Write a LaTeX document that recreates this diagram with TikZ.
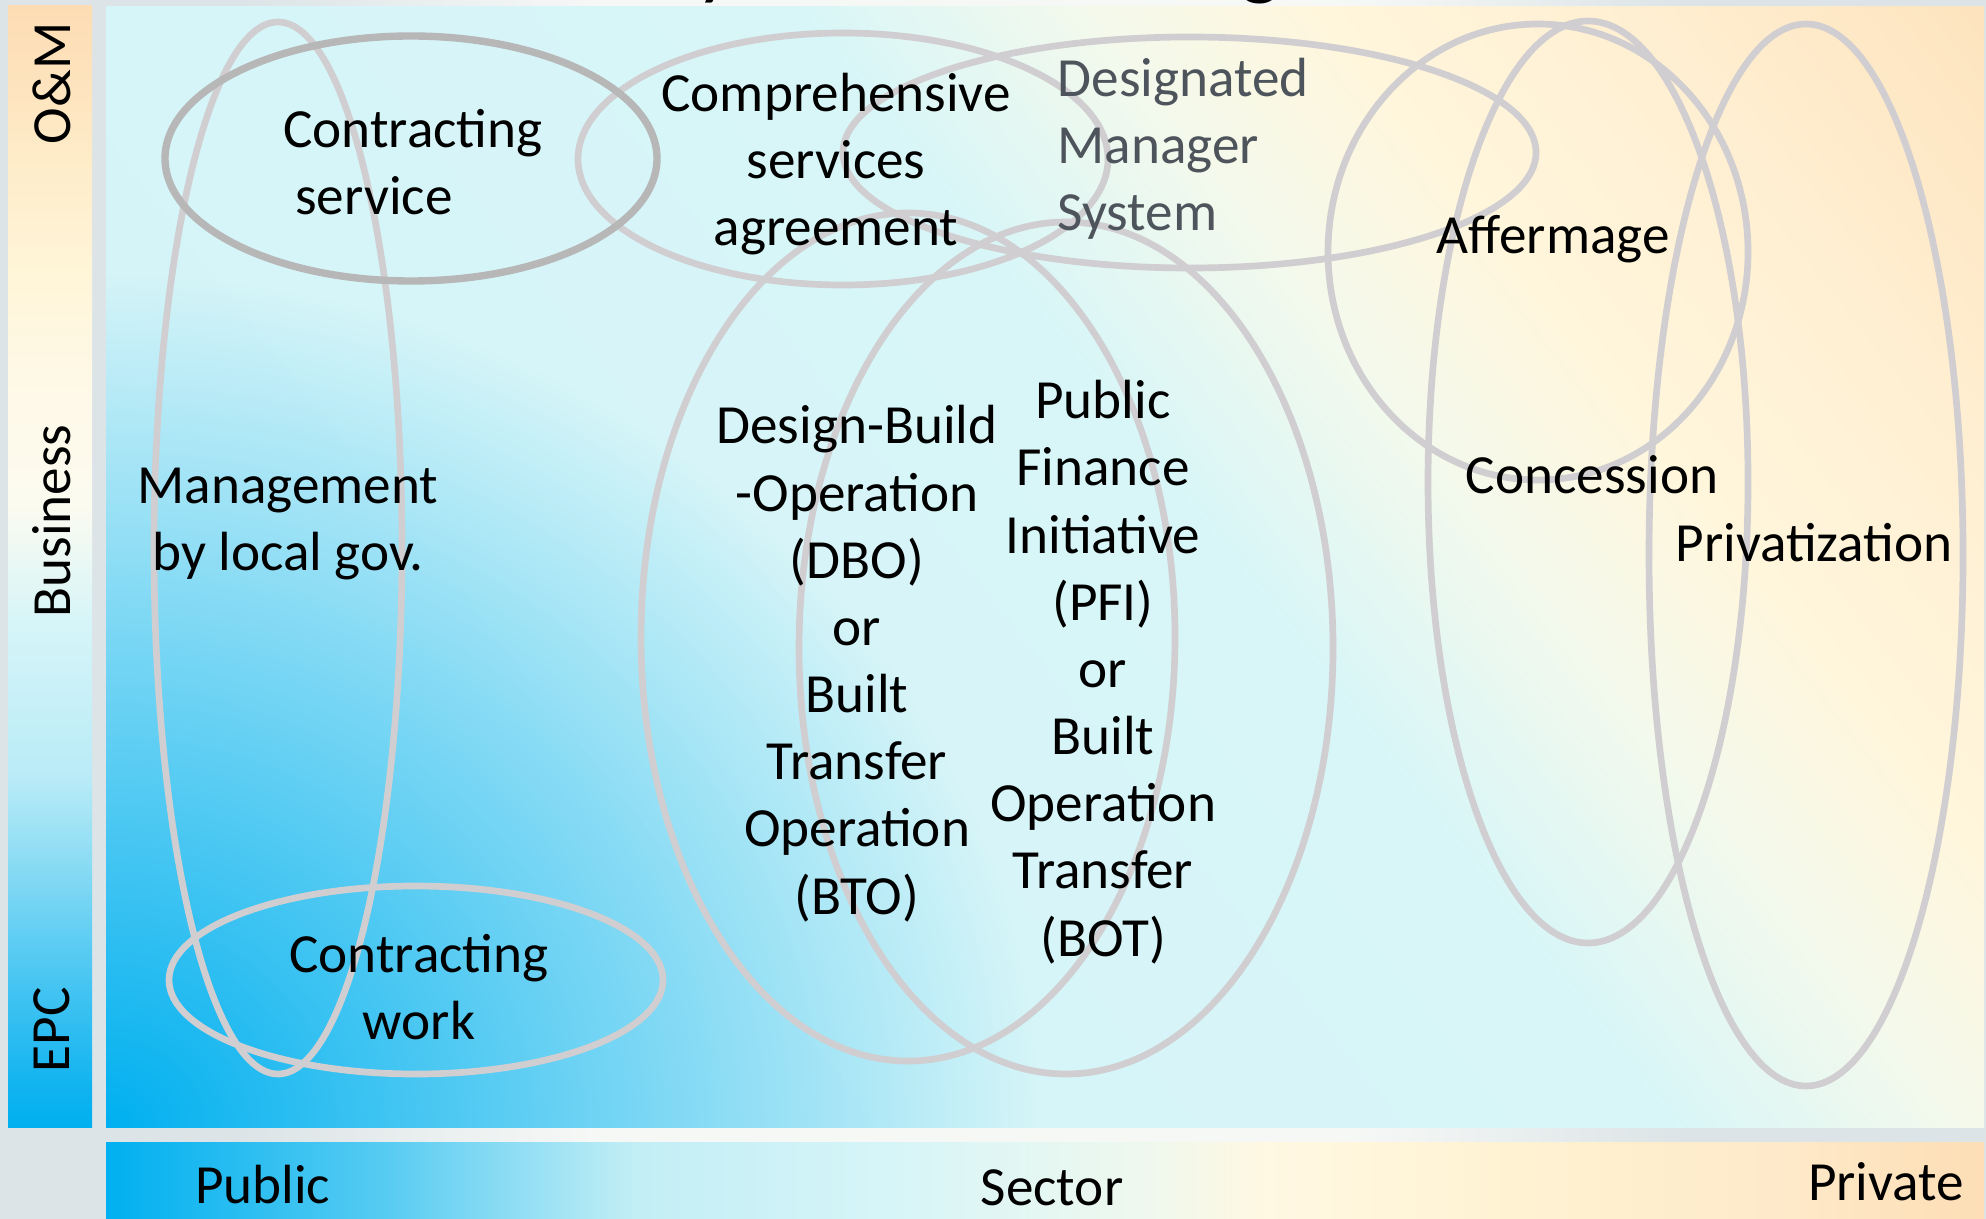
\documentclass[tikz,border=0pt]{standalone}
\usepackage{fontspec}
\setmainfont{Carlito}
\usetikzlibrary{fadings}

\definecolor{bggray}{HTML}{DCE4E7}
\definecolor{bgwhite}{HTML}{F6F8F6}
\definecolor{cblue}{HTML}{00B0F0}
\definecolor{ringgray}{HTML}{D0CED0}
\definecolor{ringdark}{HTML}{B7B7B8}
\definecolor{txtgray}{HTML}{4E545B}
\definecolor{lb0}{HTML}{00B0F0}
\definecolor{lb1}{HTML}{10B3F0}
\definecolor{lb2}{HTML}{4CC7F2}
\definecolor{lb3}{HTML}{8FDDF4}
\definecolor{lb4}{HTML}{B9EBF7}
\definecolor{lb5}{HTML}{D6F5F8}
\definecolor{lb6}{HTML}{FCFBF0}
\definecolor{lb7}{HTML}{FEF9E8}
\definecolor{lb8}{HTML}{FFF5D8}
\definecolor{lb9}{HTML}{FEEBC8}
\definecolor{lb10}{HTML}{FDDCB3}
\definecolor{bb0}{HTML}{00B0F0}
\definecolor{bb1}{HTML}{55CBF2}
\definecolor{bb2}{HTML}{C2EEF5}
\definecolor{bb3}{HTML}{D6F5F8}
\definecolor{bb4}{HTML}{EEF8EE}
\definecolor{bb5}{HTML}{FFF8E2}
\definecolor{bb6}{HTML}{FFF2D2}
\definecolor{bb7}{HTML}{FEEACA}
\definecolor{bb8}{HTML}{FDDEB5}
\definecolor{pn0}{HTML}{D3F3F8}
\definecolor{pn1}{HTML}{D8F6F8}
\definecolor{pn2}{HTML}{F4F9EC}
\definecolor{pn3}{HTML}{FFF6DC}
\definecolor{pn4}{HTML}{FFEFD2}
\definecolor{pn5}{HTML}{FDE3BD}

% PGF fits the middle part (25bp..75bp) of a shading to the path
\pgfdeclarehorizontalshading{bgstripsh}{100bp}{color(0bp)=(bggray); color(31bp)=(bggray); color(40bp)=(bgwhite); color(59bp)=(bgwhite); color(67.5bp)=(bggray); color(100bp)=(bggray)}
\pgfdeclareverticalshading{leftbarsh}{100bp}{color(0bp)=(lb0); color(25bp)=(lb0); color(26.7bp)=(lb1); color(31.9bp)=(lb2); color(37.15bp)=(lb3); color(40.6bp)=(lb4); color(47.5bp)=(lb5); color(52.75bp)=(lb6); color(57.9bp)=(lb7); color(63.15bp)=(lb8); color(68.35bp)=(lb9); color(75bp)=(lb10); color(100bp)=(lb10)}
\pgfdeclarehorizontalshading{bottombarsh}{100bp}{color(0bp)=(bb0); color(25bp)=(bb0); color(32.3bp)=(bb1); color(39.05bp)=(bb2); color(45.8bp)=(bb3); color(52.5bp)=(bb4); color(55.9bp)=(bb5); color(62.65bp)=(bb6); color(69.4bp)=(bb7); color(75bp)=(bb8); color(100bp)=(bb8)}
\pgfdeclarehorizontalshading{panelsh}{100bp}{color(0bp)=(pn0); color(25bp)=(pn0); color(53.4bp)=(pn1); color(58.6bp)=(pn2); color(62.7bp)=(pn3); color(68.2bp)=(pn4); color(75bp)=(pn5); color(100bp)=(pn5)}

\tikzfading[name=blobfade, inner color=transparent!0, outer color=transparent!100]

\begin{document}
\begin{tikzpicture}[x=0.01cm, y=-0.01cm,
  ring/.style={draw=ringgray, line width=1.9pt},
  ringd/.style={draw=ringdark, line width=2.1pt},
  lbl/.style={font=\fontsize{15.7}{19.1}\selectfont, align=center, inner sep=0pt, text=black},
  sidelbl/.style={font=\fontsize{15.7}{19.1}\selectfont, inner sep=0pt, rotate=90, text=black},
  titlefrag/.style={font=\fontsize{24}{28}\selectfont, inner sep=0pt, anchor=base, text=black}]
\useasboundingbox (0,0) rectangle (1986,1219);
\begin{scope}
\clip (0,0) rectangle (1986,1219);
% background
\shade[shading=bgstripsh] (0,0) rectangle (1986,1219);
% left bar
\shade[shading=leftbarsh] (8,6) rectangle (92,1127);
% bottom bar
\shade[shading=bottombarsh] (106,1142) rectangle (1984,1219);
% main panel
\begin{scope}
\clip (106,7) rectangle (1984,1127);
\shade[shading=panelsh, transform canvas={rotate around={38:(1045,567)}}] (-55,-533) rectangle (2145,1667);
\fill[cblue, path fading=blobfade] (-824,277) rectangle (1036,1977);
\end{scope}
% title fragments (cut off at the top edge)
\node[titlefrag] (ty) at (716,-10) {y};
\node[titlefrag] (tg) at (1260,-10) {g};
% ellipses
\draw[ring] (278,548) ellipse [x radius=124, y radius=526];
\draw[ring] (416,980) ellipse [x radius=247, y radius=94];
\draw[ring] (843,159) ellipse [x radius=265, y radius=126];
\draw[ring] (1189.5,152.5) ellipse [x radius=346.5, y radius=115.5];
\draw[ring] (908,637) ellipse [x radius=267, y radius=424];
\draw[ring] (1066,648) ellipse [x radius=267, y radius=426];
\draw[ring] (1538,252) ellipse [x radius=210, y radius=228];
\draw[ring] (1588,482) ellipse [x radius=160, y radius=461];
\draw[ring] (1806,555) ellipse [x radius=157, y radius=531];
\draw[ringd] (411,158.5) ellipse [x radius=246, y radius=122.5];
% labels
\node[lbl] (csvc) at (413,162) {Contracting\\service\rule{0.78cm}{0pt}};
\node[lbl] (cwork) at (419,987) {Contracting\\work};
\node[lbl] (mgmt) at (288,524) {Management\\by local gov.};
\node[lbl] (comp) at (836,164) {Comprehensive\\services\\agreement};
\node[lbl, align=left, anchor=west, text=txtgray] (desig) at (1057,148.5) {Designated\\Manager\\System};
\node[lbl] (aff) at (1553,239) {Affermage};
\node[lbl] (conc) at (1592,475) {Concession};
\node[lbl] (priv) at (1814,543) {Privatization};
\node[lbl] (dbo) at (857,663.6) {Design-Build\\-Operation\\(DBO)\\or\\Built\\Transfer\\Operation\\(BTO)};
\node[lbl] (pfi) at (1103,672) {Public\\Finance\\Initiative\\(PFI)\\or\\Built\\Operation\\Transfer\\(BOT)};
% side labels
\node[sidelbl] (om) at (51.5,83.5) {O\&M};
\node[sidelbl] (bus) at (51.5,521) {Business};
\node[sidelbl] (epc) at (51.5,1030) {EPC};
% bottom labels
\node[lbl] (pub) at (262.7,1185) {Public};
\node[lbl] (sec) at (1052,1188) {Sector};
\node[lbl] (pri) at (1886,1182) {Private};
\end{scope}
\end{tikzpicture}
\end{document}
